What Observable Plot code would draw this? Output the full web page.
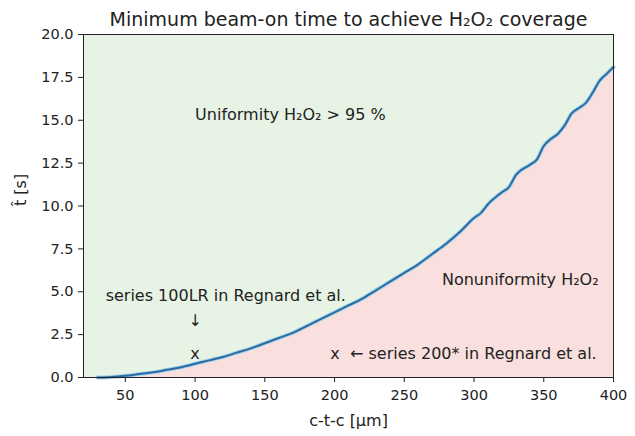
<!DOCTYPE html>
<html>
<head>
<meta charset="utf-8">
<script src="https://cdn.jsdelivr.net/npm/d3@7"></script>
<script src="https://cdn.jsdelivr.net/npm/@observablehq/plot@0.6"></script>
<style>
  html, body { margin: 0; padding: 0; background: #fff; }
  svg { font-family: "DejaVu Sans", sans-serif; }
</style>
</head>
<body>
<div id="chart"></div>
<script>
// c-t-c distance [µm]
const ctc = [30, 40, 50, 60, 70, 80, 90, 100, 110, 120, 130, 140, 150, 160, 170, 180, 190, 200,
  210, 220, 230, 240, 250, 260, 270, 280, 290, 300, 305, 310, 320, 325, 330, 340, 345, 350,
  355, 360, 365, 370, 375, 380, 385, 390, 395, 400];
// minimum beam-on time t̂ [s]
const tmin = [0.0, 0.03, 0.1, 0.2, 0.3, 0.45, 0.6, 0.8, 1.0, 1.2, 1.45, 1.7, 2.0, 2.3, 2.6, 3.0, 3.4, 3.8,
  4.2, 4.6, 5.1, 5.6, 6.1, 6.6, 7.2, 7.8, 8.5, 9.3, 9.6, 10.1, 10.8, 11.1, 11.8, 12.4, 12.7, 13.5,
  13.9, 14.2, 14.7, 15.4, 15.7, 16.0, 16.6, 17.3, 17.7, 18.1];

const xTicks = [50, 100, 150, 200, 250, 300, 350, 400];
const yTicks = [0, 2.5, 5, 7.5, 10, 12.5, 15, 17.5, 20];

// left-aligned annotations
const notesStart = [
  {x: 100, y: 15.3, text: "Uniformity H₂O₂ > 95 %"},
  {x: 277, y: 5.7, text: "Nonuniformity H₂O₂"},
  {x: 197, y: 1.35, text: "x  ← series 200* in Regnard et al."}
];
// centred annotations
const notesMiddle = [
  {x: 122, y: 4.75, text: "series 100LR in Regnard et al."},
  {x: 100, y: 3.3, text: "↓"},
  {x: 100, y: 1.35, text: "x"}
];

const data = ctc.map((x, i) => ({x, y: tmin[i]}));

const chart = Plot.plot({
  width: 635,
  height: 436,
  marginLeft: 83,
  marginRight: 22,
  marginTop: 34,
  marginBottom: 59,
  style: {fontSize: "14.5px", fontFamily: "DejaVu Sans, sans-serif", color: "#222", background: "#fff"},
  x: {domain: [20, 400]},
  y: {domain: [0, 20]},
  marks: [
    Plot.frame({fill: "#e7f3e4", stroke: null}),
    Plot.areaY(data, {x: "x", y1: 0, y2: "y", fill: "#f9e0de", curve: "monotone-x"}),
    Plot.line(data, {x: "x", y: "y", stroke: "#a8d2ec", strokeWidth: 4, curve: "monotone-x"}),
    Plot.line(data, {x: "x", y: "y", stroke: "#2a6ba0", strokeWidth: 2, curve: "monotone-x"}),
    Plot.frame({stroke: "#222", strokeWidth: 1}),
    Plot.axisX({ticks: xTicks, tickSize: 5, tickPadding: 7, tickFormat: d3.format("d"), label: null, fontSize: 14.5}),
    Plot.axisY({ticks: yTicks, tickSize: 5, tickPadding: 5, tickFormat: d3.format(".1f"), label: null, fontSize: 14.5}),
    Plot.text(notesStart, {x: "x", y: "y", text: "text", textAnchor: "start", fontSize: 16, fill: "#222"}),
    Plot.text(notesMiddle, {x: "x", y: "y", text: "text", textAnchor: "middle", fontSize: 16, fill: "#222"}),
    Plot.text(["Minimum beam-on time to achieve H₂O₂ coverage"], {frameAnchor: "top", dy: -22, fontSize: 19, fill: "#222"}),
    Plot.text(["c-t-c [μm]"], {frameAnchor: "bottom", dy: 48, fontSize: 16, fill: "#222"}),
    Plot.text(["t̂ [s]"], {frameAnchor: "left", dx: -63, rotate: -90, fontSize: 16, fill: "#222"})
  ]
});
document.getElementById("chart").appendChild(chart);
</script>
</body>
</html>
